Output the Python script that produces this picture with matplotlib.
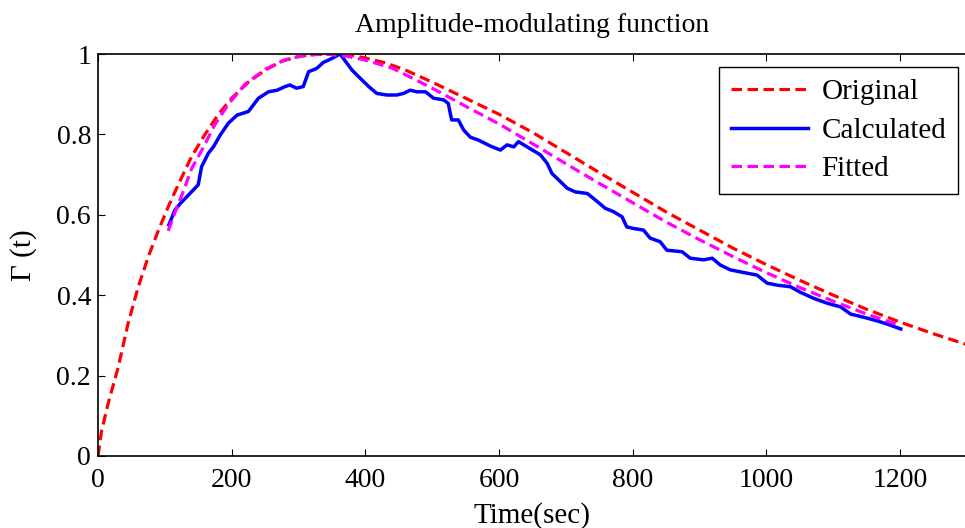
import matplotlib
matplotlib.use("Agg")
import matplotlib.pyplot as plt

plt.rcParams["font.family"] = ["Liberation Serif", "DejaVu Serif"]

# original amplitude-modulating function
t_orig = [0, 5, 15, 30, 45, 60, 75, 90, 105, 120, 140, 160, 180, 200, 225, 250,
          275, 300, 325, 350, 375, 400, 430, 460, 500, 550, 600, 650, 700, 750,
          800, 850, 900, 950, 1000, 1050, 1100, 1150, 1200, 1250, 1300]
g_orig = [0.0, 0.06, 0.13, 0.22, 0.33, 0.42, 0.495, 0.56, 0.62, 0.675, 0.745,
          0.80, 0.85, 0.89, 0.93, 0.96, 0.982, 0.994, 0.999, 1.0, 0.998, 0.99,
          0.978, 0.96, 0.93, 0.89, 0.85, 0.805, 0.755, 0.705, 0.656, 0.607,
          0.562, 0.517, 0.476, 0.437, 0.40, 0.365, 0.333, 0.304, 0.277]

# calculated (noisy estimate)
t_calc = [106, 115, 123, 145, 150, 153, 155, 165, 173, 183, 195, 208, 225, 240,
          255, 268, 280, 287, 297, 307, 315, 327, 337, 350, 362, 367, 380, 392,
          405, 417, 432, 447, 457, 467, 477, 490, 502, 517, 524, 529, 539, 547,
          557, 569, 587, 602, 612, 622, 629, 642, 662, 672, 679, 689, 702, 714,
          732, 744, 759, 771, 784, 791, 801, 816, 826, 841, 851, 874, 886, 906,
          919, 931, 946, 961, 986, 1001, 1016, 1036, 1051, 1071, 1091, 1111,
          1126, 1146, 1166, 1181, 1201]
g_calc = [0.575, 0.612, 0.628, 0.666, 0.675, 0.703, 0.72, 0.753, 0.77, 0.799,
          0.828, 0.848, 0.857, 0.89, 0.906, 0.91, 0.919, 0.923, 0.915, 0.919,
          0.956, 0.964, 0.979, 0.989, 1.0, 0.989, 0.96, 0.94, 0.919, 0.902,
          0.898, 0.898, 0.902, 0.91, 0.906, 0.906, 0.89, 0.886, 0.877, 0.836,
          0.836, 0.811, 0.793, 0.786, 0.771, 0.761, 0.774, 0.769, 0.782, 0.769,
          0.749, 0.728, 0.703, 0.687, 0.666, 0.657, 0.653, 0.637, 0.616, 0.608,
          0.595, 0.570, 0.566, 0.562, 0.542, 0.533, 0.512, 0.508, 0.492, 0.488,
          0.492, 0.475, 0.463, 0.458, 0.450, 0.430, 0.425, 0.421, 0.407, 0.392,
          0.380, 0.371, 0.353, 0.345, 0.336, 0.328, 0.316]

# fitted function
t_fit = [105, 115, 128, 140, 155, 175, 195, 220, 250, 280, 310, 340, 370, 400,
         440, 500, 550, 600, 650, 700, 750, 800, 850, 900, 950, 1000, 1050,
         1100, 1150, 1200]
g_fit = [0.56, 0.605, 0.66, 0.715, 0.76, 0.825, 0.875, 0.925, 0.962, 0.986,
         0.997, 1.0, 0.995, 0.985, 0.965, 0.915, 0.87, 0.826, 0.777, 0.727,
         0.678, 0.63, 0.582, 0.538, 0.496, 0.456, 0.419, 0.385, 0.353, 0.325]

fig = plt.figure(figsize=(9.65, 5.28), dpi=100)
ax = fig.add_axes([0.1016, 0.1364, 0.9004, 0.7613])

dash = (0, (3.3, 1.7))
ax.plot(t_orig, g_orig, color="red", lw=2.3, linestyle=dash, label="Original")
ax.plot(t_calc, g_calc, color="blue", lw=2.5, label="Calculated")
ax.plot(t_fit, g_fit, color="magenta", lw=2.3, linestyle=dash, label="Fitted")

ax.set_xlim(0, 1300)
ax.set_ylim(0, 1)
ax.set_xticks([0, 200, 400, 600, 800, 1000, 1200])
ax.set_yticks([0, 0.2, 0.4, 0.6, 0.8, 1])
ax.set_yticklabels(["0", "0.2", "0.4", "0.6", "0.8", "1"])
ax.tick_params(direction="in", top=True, right=False, labelsize=20,
               length=5, width=0.8)
ax.tick_params(axis="x", pad=9)
ax.tick_params(axis="y", pad=5)
for s in ax.spines.values():
    s.set_linewidth(1.2)

ax.set_title("Amplitude-modulating function", fontsize=20, pad=16)
ax.set_xlabel("Time(sec)", fontsize=21, labelpad=6)
ax.set_ylabel("\u0393 (t)", fontsize=21, labelpad=14)

leg = ax.legend(loc="upper right", fontsize=21, handlelength=2.65,
                fancybox=False, framealpha=1, edgecolor="black",
                borderpad=0.4, labelspacing=0.42, handletextpad=0.45,
                borderaxespad=0, bbox_to_anchor=(0.9896, 0.9677))
leg.get_frame().set_linewidth(1.0)

fig.savefig("out.png", dpi=100)
